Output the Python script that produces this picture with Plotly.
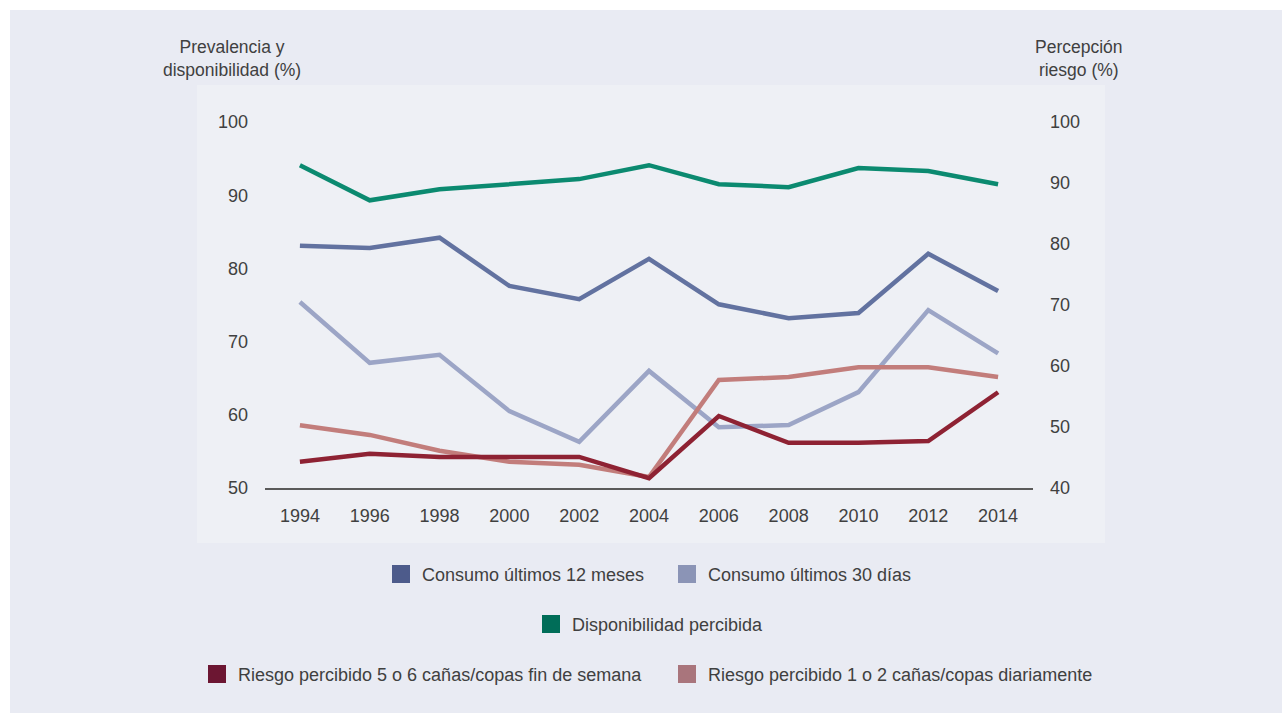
import plotly.graph_objects as go

years = [1994, 1996, 1998, 2000, 2002, 2004, 2006, 2008, 2010, 2012, 2014]
consumo_12m = [83.1, 82.8, 84.2, 77.6, 75.8, 81.3, 75.1, 73.2, 73.9, 82.0, 76.9]
consumo_30d = [75.4, 67.1, 68.2, 60.5, 56.3, 66.0, 58.3, 58.6, 63.1, 74.3, 68.4]
disponibilidad = [94.1, 89.3, 90.8, 91.5, 92.2, 94.1, 91.5, 91.1, 93.7, 93.3, 91.5]
riesgo_finde = [44.3, 45.6, 45.1, 45.1, 45.1, 41.6, 51.8, 47.4, 47.4, 47.7, 55.7]
riesgo_diario = [50.3, 48.7, 46.1, 44.3, 43.8, 41.8, 57.7, 58.2, 59.8, 59.8, 58.2]

names = ["Consumo últimos 12 meses", "Consumo últimos 30 días", "Disponibilidad percibida",
         "Riesgo percibido 5 o 6 cañas/copas fin de semana", "Riesgo percibido 1 o 2 cañas/copas diariamente"]
left_ticks = [50, 60, 70, 80, 90, 100]
right_ticks = [40, 50, 60, 70, 80, 90, 100]

line_colors = ["#6272a0", "#9ca5c6", "#0b8a70", "#8e2233", "#c27d7b"]
legend_colors = ["#4d5b8b", "#8b94b6", "#006d58", "#6c1632", "#a9757c"]

BG = "#e9ebf3"
W, H = 1282, 713
L, R, T, B = 265, 1033, 122, 488
FONT = "Liberation Sans"
TXT = "#404040"

def px(x):
    return (x - L) / (R - L)

def py(y):
    return (B - y) / (B - T)

fig = go.Figure()
series = [(consumo_30d, 1, "y"), (consumo_12m, 0, "y"), (disponibilidad, 2, "y"),
          (riesgo_diario, 4, "y2"), (riesgo_finde, 3, "y2")]
for vals, idx, ax in series:
    fig.add_trace(go.Scatter(x=years, y=vals, name=names[idx], mode="lines", yaxis=ax,
                             line=dict(color=line_colors[idx], width=4.5), showlegend=False,
                             cliponaxis=False))

shapes = [
    dict(type="rect", xref="paper", yref="paper", x0=px(10), x1=px(1300), y0=py(10), y1=py(730),
         fillcolor=BG, line=dict(width=0), layer="below"),
    dict(type="rect", xref="paper", yref="paper", x0=px(197), x1=px(1105), y0=py(85), y1=py(543),
         fillcolor="#eef0f5", line=dict(width=0), layer="below"),
]
annotations = [
    dict(text="Prevalencia y<br>disponibilidad (%)", x=px(232), y=py(58), xref="paper", yref="paper",
         showarrow=False, xanchor="center", yanchor="middle", font=dict(size=17.5, color=TXT, family=FONT)),
    dict(text="Percepción<br>riesgo (%)", x=px(1079), y=py(58), xref="paper", yref="paper",
         showarrow=False, xanchor="center", yanchor="middle", font=dict(size=17.5, color=TXT, family=FONT)),
]

legend_items = [(0, 392, 574), (1, 678, 574), (2, 542, 624), (3, 208, 674), (4, 678, 674)]
for idx, x0, yc in legend_items:
    shapes.append(dict(type="rect", xref="paper", yref="paper", x0=px(x0), x1=px(x0 + 18),
                       y0=py(yc - 9), y1=py(yc + 9), fillcolor=legend_colors[idx], line=dict(width=0)))
    annotations.append(dict(text=names[idx], x=px(x0 + 28), y=py(yc + 1), xref="paper", yref="paper",
                            showarrow=False, xanchor="left", yanchor="middle",
                            font=dict(size=18, color=TXT, family=FONT)))

fig.update_layout(
    width=W, height=H,
    margin=dict(l=L, r=W - R, t=T, b=H - B, pad=0),
    paper_bgcolor="white", plot_bgcolor="rgba(0,0,0,0)",
    font=dict(family=FONT, size=18, color=TXT),
    xaxis=dict(range=[1993, 2015], tickvals=years, ticktext=[str(y) for y in years],
               showgrid=False, zeroline=False, showline=True, linecolor="#5a5a5a", linewidth=2,
               ticks="", ticklabelstandoff=10, tickfont=dict(size=18, color=TXT)),
    yaxis=dict(range=[50, 100], tickvals=left_ticks, showgrid=False, zeroline=False, showline=False,
               ticks="", ticklabelstandoff=16, tickfont=dict(size=18, color=TXT)),
    yaxis2=dict(range=[40, 100], tickvals=right_ticks, overlaying="y", side="right", showgrid=False,
                zeroline=False, showline=False, ticks="", ticklabelstandoff=16,
                tickfont=dict(size=18, color=TXT)),
    shapes=shapes, annotations=annotations, showlegend=False,
)

fig.write_html("out.html", config={"displayModeBar": False},
               post_script="document.body.style.margin='0';document.body.style.overflow='hidden';"
                           "document.documentElement.style.overflow='hidden';"
                           "document.body.style.background='" + BG + "';"
                           "document.documentElement.style.background='" + BG + "';")
